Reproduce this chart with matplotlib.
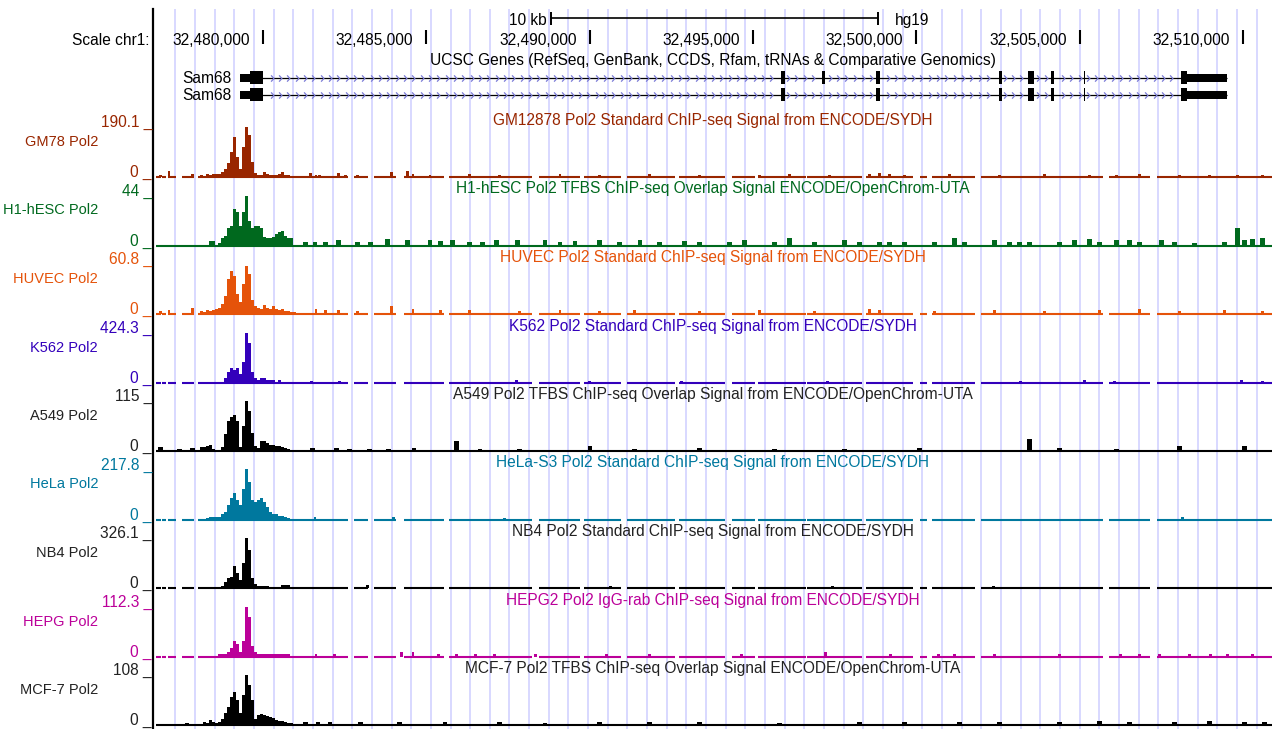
import numpy as np
import matplotlib
matplotlib.use("Agg")
import matplotlib.pyplot as plt
from matplotlib.lines import Line2D
from matplotlib.patches import Rectangle
from matplotlib.path import Path

W, H = 1272, 729
plt.rcParams['font.family'] = ['Liberation Sans', 'DejaVu Sans']

# window shown, kb on chr1 (hg19)
VIEW_START, VIEW_END = 32476.66, 32510.89

# ---- ruler ----
tick_kb = [32480, 32485, 32490, 32495, 32500, 32505, 32510]
scalebar_start, scalebar_len = 32488.82, 10.0
guide_start, guide_step = 32477.31, 0.602

# ---- gene (Sam68 / KHDRBS1), two transcripts ----
gene_name = "Sam68"
cds_start, cds_end = 32479.60, 32508.29
tx1_exon_starts = [32479.30, 32495.87, 32497.10, 32498.78, 32502.52, 32503.42, 32504.11, 32505.12, 32508.11]
tx1_exon_ends = [32480.00, 32495.97, 32497.20, 32498.88, 32502.62, 32503.60, 32504.21, 32505.16, 32509.52]
tx2_exon_starts = [32479.30, 32495.87, 32498.78, 32502.52, 32503.42, 32504.11, 32505.12, 32508.11]
tx2_exon_ends = [32480.00, 32495.97, 32498.88, 32502.62, 32503.60, 32504.21, 32505.16, 32509.52]

# ---- tracks ----
track_names = ["GM78 Pol2", "H1-hESC Pol2", "HUVEC Pol2", "K562 Pol2", "A549 Pol2",
               "HeLa Pol2", "NB4 Pol2", "HEPG Pol2", "MCF-7 Pol2"]
track_titles = [
    "GM12878 Pol2 Standard ChIP-seq Signal from ENCODE/SYDH",
    "H1-hESC Pol2 TFBS ChIP-seq Overlap Signal ENCODE/OpenChrom-UTA",
    "HUVEC Pol2 Standard ChIP-seq Signal from ENCODE/SYDH",
    "K562 Pol2 Standard ChIP-seq Signal from ENCODE/SYDH",
    "A549 Pol2 TFBS ChIP-seq Overlap Signal from ENCODE/OpenChrom-UTA",
    "HeLa-S3 Pol2 Standard ChIP-seq Signal from ENCODE/SYDH",
    "NB4 Pol2 Standard ChIP-seq Signal from ENCODE/SYDH",
    "HEPG2 Pol2 IgG-rab ChIP-seq Signal from ENCODE/SYDH",
    "MCF-7 Pol2 TFBS ChIP-seq Overlap Signal ENCODE/OpenChrom-UTA",
]
track_colors = ["#992600", "#00691e", "#e5530a", "#3300bb", "#000000",
                "#00789e", "#000000", "#bb0099", "#000000"]
track_max = [190.1, 44, 60.8, 424.3, 115, 217.8, 326.1, 112.3, 108]
track_sydh = [True, False, True, True, False, True, True, True, False]

# unmappable stretches (no data) in the SYDH signal files
gap_starts = [32476.88, 32477.03, 32477.32, 32477.89, 32482.60, 32483.22, 32484.07, 32485.54,
              32488.24, 32489.71, 32490.96, 32492.62, 32494.15, 32495.07, 32496.63, 32498.34,
              32499.90, 32500.33, 32501.80, 32505.72, 32507.16]
gap_ends = [32476.92, 32477.09, 32477.52, 32478.01, 32482.79, 32483.40, 32484.32, 32485.70,
            32488.45, 32489.83, 32491.15, 32492.74, 32494.36, 32495.16, 32496.66, 32498.46,
            32500.12, 32500.49, 32501.99, 32505.91, 32507.37]
data_start = 32476.73

# promoter peak region, fixed-step bins
PEAK_START, PEAK_STEP = 32478.07, 0.092
gm78_peak = [8, 4, 11, 8, 11, 11, 11, 19, 30, 53, 95, 152, 76, 30, 114, 190, 160, 57, 15, 8,
             8, 19, 11, 8, 8, 8, 11, 19, 8, 8, 4, 0]
h1_peak = [0, 0, 0, 4.4, 4.4, 0, 1.8, 6.2, 8.8, 15, 17.6, 31.7, 29.9, 17.6, 29.9, 44, 22, 15.8,
           17.6, 17.6, 15.8, 7.9, 7, 7, 7.9, 9.7, 12.3, 13.2, 8.8, 7, 6.2, 0]
huvec_peak = [3.6, 2.4, 4.9, 3.6, 4.9, 6.1, 7.3, 12.2, 21.9, 42.6, 52.3, 46.2, 24.3, 14.6, 36.5,
              58.4, 48.6, 17, 9.7, 7.3, 6.1, 10.9, 7.3, 6.1, 9.7, 6.1, 4.9, 6.1, 3.6, 3.6, 2.4, 2.4]
k562_peak = [0, 0, 0, 0, 8, 0, 0, 8, 34, 85, 119, 110, 127, 68, 170, 424, 339, 85, 34, 17,
             34, 34, 17, 25, 17, 8, 17, 0, 0, 0, 0, 0]
a549_peak = [9.2, 9.2, 11.5, 13.8, 4.6, 2.3, 2.3, 9.2, 39, 69, 78, 83, 69, 9.2, 57.5, 115, 92,
             41, 11.5, 6.9, 23, 23, 18.4, 13.8, 13.8, 11.5, 11.5, 9.2, 6.9, 4.6, 0, 0]
hela_peak = [0, 0, 8.7, 13, 13, 13, 13, 21.8, 34.8, 65.3, 95.8, 117.6, 87.1, 61, 130.7, 217.8,
             165.5, 87.1, 78.4, 87.1, 95.8, 78.4, 52.3, 34.8, 26.1, 21.8, 17.4, 17.4, 13, 4.4, 0, 0]
nb4_peak = [0, 0, 0, 0, 0, 6.5, 6.5, 13, 39, 65, 72, 143, 98, 52, 163, 326, 248, 65, 26, 13,
            13, 13, 13, 6.5, 0, 0, 0, 19.6, 19.6, 19.6, 0, 0]
hepg_peak = [0, 0, 0, 0, 2.2, 2.2, 4.5, 4.5, 4.5, 11.2, 18, 33.7, 27, 11.2, 33.7, 112.3, 89.8,
             22.5, 9, 6.7, 4.5, 6.7, 4.5, 4.5, 6.7, 4.5, 4.5, 6.7, 4.5, 4.5, 2.2, 0]
mcf7_peak = [0, 6.5, 4.3, 10.8, 6.5, 4.3, 6.5, 13, 26, 39, 60.5, 71.3, 54, 26, 64.8, 108, 86.4,
             54, 13, 21.6, 23.8, 21.6, 19.4, 17.3, 15.1, 10.8, 8.6, 8.6, 6.5, 4.3, 4.3, 2.2]

# scattered low signal elsewhere in the window
gm78_bump_pos = [32476.85, 32477.12, 32477.83, 32481.44, 32481.62, 32481.74, 32482.30, 32482.51,
                 32482.88, 32483.92, 32484.41, 32484.59, 32485.11, 32486.33, 32487.25, 32489.09,
                 32490.31, 32491.84, 32493.37, 32495.21, 32496.13, 32497.35, 32498.57, 32498.88,
                 32499.19, 32499.65, 32501.02, 32502.55, 32503.93, 32505.31, 32506.13, 32506.84,
                 32508.06, 32508.98, 32509.84, 32510.60]
gm78_bump_val = [8, 23, 11, 15, 8, 8, 15, 8, 8, 19, 23, 11, 8, 11, 8, 11, 8, 11, 8, 8,
                 11, 8, 11, 15, 11, 8, 11, 8, 11, 8, 8, 11, 8, 8, 8, 8]
h1_bump_pos = [32481.29, 32481.59, 32481.90, 32482.30, 32482.88, 32483.28, 32483.80, 32484.41,
               32485.11, 32485.42, 32485.81, 32486.33, 32486.73, 32487.16, 32487.80, 32488.63,
               32489.09, 32489.55, 32490.31, 32490.92, 32491.54, 32492.15, 32492.91, 32493.37,
               32494.29, 32494.75, 32495.67, 32496.13, 32496.89, 32497.81, 32498.27, 32498.88,
               32499.19, 32499.65, 32500.56, 32501.18, 32501.48, 32502.40, 32502.86, 32503.16,
               32503.47, 32504.39, 32504.85, 32505.31, 32505.61, 32506.13, 32506.53, 32506.84,
               32507.51, 32507.91, 32508.52, 32509.44, 32509.84, 32510.05, 32510.29, 32510.60]
h1_bump_val = [3.5, 3.5, 3.5, 5, 3.5, 3, 6, 5, 4.5, 4, 4.5, 3.5, 3.5, 4.5, 4.5, 5, 3, 4, 4.5, 3,
               5, 3, 4, 3.5, 3, 4.5, 3, 6.5, 3.5, 5, 3, 3.5, 3.5, 3, 3.5, 7, 3, 5, 3.5, 3,
               3, 3, 4.5, 6, 3.5, 5, 5, 3, 5, 3, 2, 3.5, 15, 5, 6, 7]
huvec_bump_pos = [32476.85, 32477.12, 32477.83, 32481.62, 32481.90, 32482.30, 32482.88, 32483.92,
                  32484.59, 32485.42, 32486.33, 32487.86, 32489.09, 32490.31, 32491.38, 32493.37,
                  32495.21, 32496.89, 32498.57, 32498.88, 32500.56, 32502.40, 32503.93, 32505.61,
                  32506.84, 32508.06, 32509.44, 32510.60]
huvec_bump_val = [3.6, 4.9, 7.3, 6.1, 4.9, 4.9, 3.6, 9.7, 6.1, 4.9, 4.9, 3.6, 4.9, 3.6, 4.9, 3.6,
                  4.9, 3.6, 6.1, 4.9, 3.6, 4.9, 3.6, 4.9, 6.1, 3.6, 4.9, 3.6]
k562_bump_pos = [32481.47, 32482.33, 32487.77, 32489.98, 32492.82, 32497.29, 32503.19, 32505.15,
                 32506.07, 32509.96, 32510.60]
k562_bump_val = [15, 12, 20, 15, 12, 10, 15, 20, 15, 20, 15]
a549_bump_pos = [32476.85, 32477.43, 32477.83, 32481.50, 32482.24, 32482.64, 32483.27, 32483.83,
                 32484.62, 32485.91, 32486.64, 32487.86, 32490.01, 32491.38, 32493.37, 32495.67,
                 32497.81, 32500.10, 32503.47, 32504.39, 32506.13, 32508.06, 32510.05]
a549_bump_val = [9, 5, 7, 7, 7, 5, 5, 5, 7, 23, 5, 5, 12, 5, 7, 5, 5, 7, 28, 7, 5, 12, 12]
hela_bump_pos = [32481.59, 32484.00, 32487.40, 32508.15]
hela_bump_val = [9, 13, 6, 13]
nb4_bump_pos = [32483.21, 32490.65, 32497.44, 32498.91, 32502.37, 32508.00]
nb4_bump_val = [20, 13, 13, 7, 13, 7]
hepg_bump_pos = [32481.62, 32482.18, 32484.24, 32484.59, 32485.38, 32485.91, 32486.50, 32487.09,
                 32488.34, 32490.50, 32491.84, 32494.66, 32497.23, 32499.22, 32500.69, 32501.18,
                 32502.40, 32504.39, 32506.24, 32506.84, 32507.45, 32508.37, 32509.00, 32509.54,
                 32510.29]
hepg_bump_val = [4.5, 4.5, 9, 9, 4.5, 4.5, 4.5, 4.5, 4.5, 4.5, 4.5, 4.5, 9, 4.5, 6.7, 4.5,
                 4.5, 6.7, 6.7, 4.5, 4.5, 4.5, 4.5, 6.7, 4.5]
mcf7_bump_pos = [32477.67, 32481.29, 32481.68, 32482.05, 32482.97, 32484.19, 32485.57, 32487.25,
                 32488.63, 32490.31, 32491.84, 32493.37, 32495.82, 32498.27, 32499.65, 32501.33,
                 32502.55, 32504.39, 32505.61, 32506.53, 32507.91, 32508.98, 32510.05, 32510.66]
mcf7_bump_val = [4.3, 6.5, 6.5, 6.5, 6.5, 6.5, 6.5, 6.5, 4.3, 6.5, 6.5, 6.5, 4.3, 6.5, 6.5, 6.5,
                 6.5, 6.5, 8.6, 6.5, 6.5, 8.6, 6.5, 6.5]

peaks = [gm78_peak, h1_peak, huvec_peak, k562_peak, a549_peak, hela_peak, nb4_peak, hepg_peak, mcf7_peak]
bump_pos = [gm78_bump_pos, h1_bump_pos, huvec_bump_pos, k562_bump_pos, a549_bump_pos,
            hela_bump_pos, nb4_bump_pos, hepg_bump_pos, mcf7_bump_pos]
bump_val = [gm78_bump_val, h1_bump_val, huvec_bump_val, k562_bump_val, a549_bump_val,
            hela_bump_val, nb4_bump_val, hepg_bump_val, mcf7_bump_val]


def fx(px):
    return px / W


def fy(py):
    return 1 - py / H


fig = plt.figure(figsize=(W / 100, H / 100), dpi=100)
fig.patch.set_facecolor("white")
LEFT, RIGHT = 154, 1272
axw = fx(RIGHT) - fx(LEFT)

# guide lines
bg = fig.add_axes([fx(LEFT), 0, axw, fy(9)])
bg.set_xlim(VIEW_START, VIEW_END)
bg.set_ylim(0, 1)
bg.axis("off")
for g in np.arange(guide_start, VIEW_END, guide_step):
    bg.axvline(g, color="#d8d8ff", lw=1.4, zorder=0)

fig.add_artist(Line2D([fx(153), fx(153)], [fy(9), 0], color="black", lw=1.6))

# header: ruler + genes (y in pixel rows)
hdr = fig.add_axes([fx(LEFT), fy(106), axw, 106 / H])
hdr.set_xlim(VIEW_START, VIEW_END)
hdr.set_ylim(106, 0)
hdr.axis("off")
hdr.patch.set_alpha(0)

fs = 11.2
name_fs = 10.5
fig.text(fx(150), fy(45), "Scale chr1:", ha="right", va="baseline", fontsize=fs)
for t in tick_kb:
    hdr.vlines(t, 30, 44, color="black", lw=1.5)
    hdr.annotate(f"{int(t * 1000):,}", xy=(t, 45), xytext=(-13 * 0.72, 0),
                 textcoords="offset points", ha="right", va="baseline", fontsize=fs)
sb_end = scalebar_start + scalebar_len
hdr.hlines(18, scalebar_start, sb_end, color="black", lw=1.2)
hdr.vlines([scalebar_start, sb_end], 12, 25, color="black", lw=1.4)
hdr.annotate(f"{scalebar_len:g} kb", xy=(scalebar_start, 25), xytext=(-3, 0),
             textcoords="offset points", ha="right", va="baseline", fontsize=fs)
hdr.annotate("hg19", xy=(sb_end, 25), xytext=(12, 0),
             textcoords="offset points", ha="left", va="baseline", fontsize=fs)
hdr.text((VIEW_START + VIEW_END) / 2, 65,
         "UCSC Genes (RefSeq, GenBank, CCDS, Rfam, tRNAs & Comparative Genomics)",
         ha="center", va="baseline", fontsize=fs)

chevron = Path([(-0.45, 1), (0.45, 0), (-0.45, -1)], [Path.MOVETO, Path.LINETO, Path.LINETO])
for row_y, starts, ends in [(77.5, tx1_exon_starts, tx1_exon_ends),
                            (94.5, tx2_exon_starts, tx2_exon_ends)]:
    g0, g1 = starts[0], ends[-1]
    hdr.hlines(row_y, g0, g1, color="black", lw=0.9, zorder=2)
    ch = np.arange(g0 + 0.2, g1, 0.255)
    inside = np.zeros(len(ch), bool)
    for s, e in zip(starts, ends):
        inside |= (ch > s - 0.08) & (ch < e + 0.08)
    hdr.plot(ch[~inside], np.full((~inside).sum(), row_y), ls="none", marker=chevron,
             ms=4.5, mfc="none", mec="#7b7bd6", mew=0.9, zorder=3)
    for s, e in zip(starts, ends):
        # UTR parts half height, coding part full height
        parts = []
        if s < cds_start:
            parts.append((s, min(e, cds_start), 8))
        if e > cds_start and s < cds_end:
            parts.append((max(s, cds_start), min(e, cds_end), 13))
        if e > cds_end:
            parts.append((max(s, cds_end), e, 8))
        for a, b, h in parts:
            hdr.add_patch(Rectangle((a, row_y - h / 2), b - a, h, color="black", lw=0, zorder=4))
    hdr.annotate(gene_name, xy=(g0, row_y), xytext=(-6, -0.7), textcoords="offset points",
                 ha="right", va="center", fontsize=fs)

# signal tracks
peak_edges = PEAK_START + PEAK_STEP * np.arange(len(gm78_peak) + 1)
for i in range(len(track_names)):
    top = 127 + i * 68.5
    bot = top + 50
    col = track_colors[i]
    txt_col = "#222222" if col == "#000000" else col
    ax = fig.add_axes([fx(LEFT), fy(bot), axw, 50 / H])
    ax.set_xlim(VIEW_START, VIEW_END)
    ax.set_ylim(0, track_max[i])
    ax.axis("off")
    ax.patch.set_alpha(0)

    vals = list(peaks[i]) + [peaks[i][-1]]
    ax.fill_between(peak_edges, 0, vals, step="post", color=col, lw=0)
    bw = 0.09 if track_sydh[i] else 0.15
    ax.bar(bump_pos[i], bump_val[i], width=bw, color=col, linewidth=0)

    # zero line where data exists
    if track_sydh[i]:
        seg_s = [data_start] + gap_ends
        seg_e = gap_starts + [VIEW_END]
    else:
        seg_s, seg_e = [data_start], [VIEW_END]
    ax.hlines(np.zeros(len(seg_s)), seg_s, seg_e, color=col, lw=1.5, clip_on=False)

    fig.text(fx(98), fy(top + 15), track_names[i], ha="right", va="center",
             color=txt_col, fontsize=name_fs)
    fig.text(fx(152), fy(top), f"{track_max[i]:g} _", ha="right", va="baseline",
             color=txt_col, fontsize=fs)
    fig.text(fx(152), fy(bot), "0 _", ha="right", va="baseline", color=txt_col, fontsize=fs)
    fig.text(fx((LEFT + RIGHT) / 2), fy(top - 2), track_titles[i], ha="center",
             va="baseline", color=txt_col, fontsize=fs)

fig.savefig("out.png", dpi=100, facecolor="white")
